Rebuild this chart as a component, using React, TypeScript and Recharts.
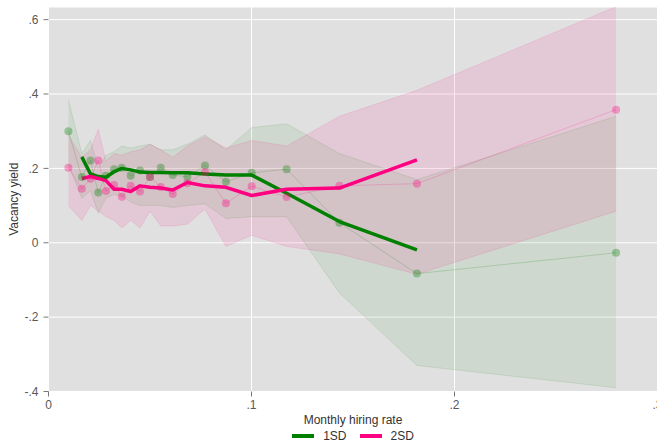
import React from 'react';
import { ComposedChart, Area, Line, XAxis, YAxis, CartesianGrid } from 'recharts';

// binned monthly hiring rate (bin means)
const hiringRate = [
  0.0098, 0.0164, 0.0207, 0.0245, 0.0283, 0.0323, 0.0361, 0.0405, 0.0451, 0.05,
  0.0553, 0.0612, 0.0684, 0.0771, 0.0874, 0.1001, 0.1173, 0.1433, 0.1815, 0.2796,
];

// bin means of vacancy yield
const yield1SD = [
  0.3, 0.177, 0.221, 0.135, 0.18, 0.198, 0.202, 0.18, 0.194, 0.177,
  0.202, 0.182, 0.177, 0.208, 0.164, 0.188, 0.198, 0.054, -0.083, -0.027,
];
const yield2SD = [
  0.202, 0.145, 0.172, 0.221, 0.139, 0.155, 0.124, 0.153, 0.138, 0.177,
  0.15, 0.131, 0.16, 0.19, 0.106, 0.152, 0.123, 0.153, 0.159, 0.358,
];

// smoothed fit (not defined at the two outer bins)
const fit1SD = [
  null, 0.231, 0.185, 0.178, 0.176, 0.191, 0.2, 0.196, 0.19, 0.189,
  0.189, 0.188, 0.188, 0.185, 0.182, 0.182, 0.133, 0.057, -0.019, null,
];
const fit2SD = [
  null, 0.173, 0.178, 0.173, 0.167, 0.144, 0.144, 0.138, 0.153, 0.149,
  0.147, 0.142, 0.162, 0.153, 0.149, 0.127, 0.144, 0.147, 0.223, null,
];

// confidence bands
const lo1SD = [
  0.21, 0.12, 0.14, 0.08, 0.12, 0.13, 0.125, 0.11, 0.1, 0.1,
  0.1, 0.095, 0.1, 0.105, 0.065, 0.07, 0.07, -0.135, -0.33, -0.39,
];
const hi1SD = [
  0.385, 0.24, 0.275, 0.2, 0.235, 0.245, 0.26, 0.255, 0.26, 0.265,
  0.25, 0.25, 0.265, 0.29, 0.25, 0.31, 0.32, 0.24, 0.17, 0.34,
];
const lo2SD = [
  0.1, 0.06, 0.1, 0.085, 0.07, 0.06, 0.04, 0.06, 0.04, 0.085,
  0.045, 0.045, 0.05, 0.09, -0.01, 0.02, -0.01, -0.03, -0.085, 0.085,
];
const hi2SD = [
  0.29, 0.23, 0.25, 0.305, 0.22, 0.24, 0.235, 0.245, 0.25, 0.265,
  0.25, 0.23, 0.26, 0.285, 0.255, 0.275, 0.26, 0.34, 0.41, 0.635,
];

const xTicks = [0, 0.1, 0.2, 0.3];
const yTicks = [-0.4, -0.2, 0, 0.2, 0.4, 0.6];

const GREEN = '#008000';
const PINK = '#ff0080';

const rows = hiringRate.map((x, i) => ({
  x,
  g: yield1SD[i],
  p: yield2SD[i],
  gFit: fit1SD[i],
  pFit: fit2SD[i],
  gBand: [lo1SD[i], hi1SD[i]],
  pBand: [lo2SD[i], hi2SD[i]],
}));

// Stata-style tick labels: ".2", "-.4", "0"
const fmt = (v: number) => {
  const r = Math.round(v * 10) / 10;
  if (r === 0) return '0';
  return r.toFixed(1).replace('0.', '.');
};

const FONT = '"Liberation Sans", Arial, sans-serif';

function YTitle(props: any) {
  const { viewBox } = props;
  const cy = viewBox.y + viewBox.height / 2;
  return (
    <text
      x={14}
      y={cy}
      transform={`rotate(-90, 14, ${cy})`}
      textAnchor="middle"
      dominantBaseline="central"
      fontSize={12}
      fontFamily={FONT}
      fill="#333"
    >
      Vacancy yield
    </text>
  );
}

function LegendItem({ color, label }: { color: string; label: string }) {
  return (
    <div style={{ display: 'flex', alignItems: 'center' }}>
      <div style={{ width: 22, height: 4, background: color, marginRight: 9 }} />
      <span>{label}</span>
    </div>
  );
}

export default function App() {
  const tick = { fontSize: 12, fontFamily: FONT, fill: '#595959' };
  return (
    <div style={{ position: 'absolute', left: 0, top: 0, width: 657, height: 442, overflow: 'hidden', background: '#fff' }}>
      <ComposedChart
        width={680}
        height={442}
        data={rows}
        margin={{ top: 7, right: 22.5, left: 0, bottom: 18.5 }}
      >
        <CartesianGrid stroke="#fff" strokeWidth={1} fill="#e0e0e0" fillOpacity={1} />
        <XAxis
          dataKey="x"
          type="number"
          domain={[0, 0.3]}
          ticks={xTicks}
          tickFormatter={fmt}
          axisLine={false}
          tickLine={{ stroke: '#777' }}
          tickSize={5}
          tickMargin={4}
          height={32}
          tick={tick}
          interval={0}
          label={{
            value: 'Monthly hiring rate',
            position: 'insideBottom',
            offset: 0,
            fontSize: 12,
            fontFamily: FONT,
            fill: '#333',
          }}
        />
        <YAxis
          type="number"
          domain={[-0.4, 0.634]}
          ticks={yTicks}
          tickFormatter={fmt}
          axisLine={false}
          tickLine={{ stroke: '#777' }}
          tickSize={5}
          tickMargin={5}
          width={48.5}
          tick={tick}
          interval={0}
          allowDataOverflow
          label={<YTitle />}
        />

        <Area
          dataKey="gBand"
          type="linear"
          fill={GREEN}
          fillOpacity={0.08}
          stroke={GREEN}
          strokeOpacity={0.1}
          strokeWidth={1}
          isAnimationActive={false}
          activeDot={false}
          dot={false}
        />
        <Area
          dataKey="pBand"
          type="linear"
          fill={PINK}
          fillOpacity={0.1}
          stroke={PINK}
          strokeOpacity={0.1}
          strokeWidth={1}
          isAnimationActive={false}
          activeDot={false}
          dot={false}
        />

        <Line
          dataKey="g"
          type="linear"
          stroke={GREEN}
          strokeOpacity={0.18}
          strokeWidth={1}
          dot={{ r: 4, fill: GREEN, fillOpacity: 0.33, stroke: 'none' }}
          activeDot={false}
          isAnimationActive={false}
        />
        <Line
          dataKey="p"
          type="linear"
          stroke={PINK}
          strokeOpacity={0.18}
          strokeWidth={1}
          dot={{ r: 4, fill: PINK, fillOpacity: 0.33, stroke: 'none' }}
          activeDot={false}
          isAnimationActive={false}
        />

        <Line
          dataKey="gFit"
          type="linear"
          stroke={GREEN}
          strokeWidth={3.5}
          strokeLinejoin="round"
          dot={false}
          activeDot={false}
          isAnimationActive={false}
        />
        <Line
          dataKey="pFit"
          type="linear"
          stroke={PINK}
          strokeWidth={3.5}
          strokeLinejoin="round"
          dot={false}
          activeDot={false}
          isAnimationActive={false}
        />
      </ComposedChart>

      <div
        style={{
          position: 'absolute',
          left: 48.5,
          width: 609,
          top: 428,
          height: 16,
          display: 'flex',
          justifyContent: 'center',
          gap: 13,
          fontSize: 12,
          fontFamily: FONT,
          color: '#333',
          lineHeight: '16px',
        }}
      >
        <LegendItem color={GREEN} label="1SD" />
        <LegendItem color={PINK} label="2SD" />
      </div>
    </div>
  );
}
